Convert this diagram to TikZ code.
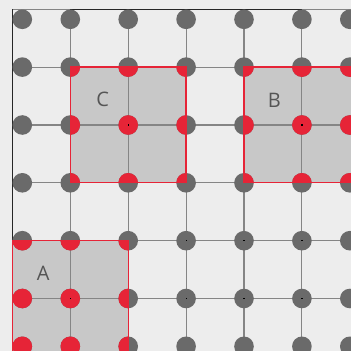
\documentclass[tikz,border=0pt]{standalone}
\usepackage{fontspec}
\setmainfont{Open Sans}
\definecolor{bgc}{HTML}{EDEDED}
\definecolor{sqc}{HTML}{C8C8C8}
\definecolor{dotc}{HTML}{6A6A6A}
\definecolor{redc}{HTML}{E62437}
\definecolor{gridc}{HTML}{858585}
\definecolor{labc}{HTML}{555555}
\tikzset{
  gridline/.style={draw=gridc, line width=1.1pt},
  axisline/.style={draw=black!85, line width=1.3pt},
  sqfill/.style={fill=sqc},
  sqborder/.style={draw=redc, line width=1.3pt},
  dotfill/.style={fill=dotc},
  redfill/.style={fill=redc},
  lab/.style={text=labc, font=\fontsize{20}{20}\selectfont, inner sep=0pt}
}
\def\cxs{22.3,70.3,128.2,186.1,244,301.9,349.8}
\def\cys{19.3,67.1,125,182.8,240.7,298.5,346.3}
\begin{document}
\begin{tikzpicture}[x=1pt,y=-1pt]
\useasboundingbox (0,0) rectangle (351,351);
\fill[bgc] (0,0) rectangle (351,351);
\clip (0,0) rectangle (351,351);
% squares
\fill[sqfill] (12.3,240.7) rectangle (128.2,356.3);
\fill[sqfill] (70.3,67.1) rectangle (186.1,182.8);
\fill[sqfill] (244,67.1) rectangle (359.8,182.8);
% grid
\foreach \x in {12.3,70.3,128.2,186.1,244,301.9}
  \draw[gridline] (\x,9.3) -- (\x,352);
\foreach \y in {9.3,67.1,125,182.8,240.7,298.5}
  \draw[gridline] (12.3,\y) -- (352,\y);
\draw[axisline] (12.3,9.3) -- (12.3,240.7);
\draw[axisline] (70.3,9.3) -- (301.9,9.3);
% circles
\foreach \x in \cxs
  \foreach \y in \cys
    \fill[dotfill] (\x,\y) circle (9.8);
% red parts
\begin{scope}
  \clip (12.3,240.7) rectangle (128.2,356.3);
  \foreach \x in \cxs
    \foreach \y in \cys
      \fill[redfill] (\x,\y) circle (9.8);
\end{scope}
\begin{scope}
  \clip (70.3,67.1) rectangle (186.1,182.8);
  \foreach \x in \cxs
    \foreach \y in \cys
      \fill[redfill] (\x,\y) circle (9.8);
\end{scope}
\begin{scope}
  \clip (244,67.1) rectangle (359.8,182.8);
  \foreach \x in \cxs
    \foreach \y in \cys
      \fill[redfill] (\x,\y) circle (9.8);
\end{scope}
% centre marks
\foreach \x in {70.3,128.2,186.1,244,301.9}
  \foreach \y in {67.1,125,182.8,240.7,298.5}
    \fill[black] (\x-0.6,\y-0.6) rectangle +(1.2,1.2);
% borders
\draw[sqborder] (12.3,240.7) rectangle (128.2,356.3);
\draw[sqborder] (70.3,67.1) rectangle (186.1,182.8);
\draw[sqborder] (244,67.1) rectangle (359.8,182.8);
% labels
\node[lab] (labA) at (43.3,273.3) {A};
\node[lab] (labB) at (274.3,100) {B};
\node[lab] (labC) at (102.7,99.3) {C};
\end{tikzpicture}
\end{document}
